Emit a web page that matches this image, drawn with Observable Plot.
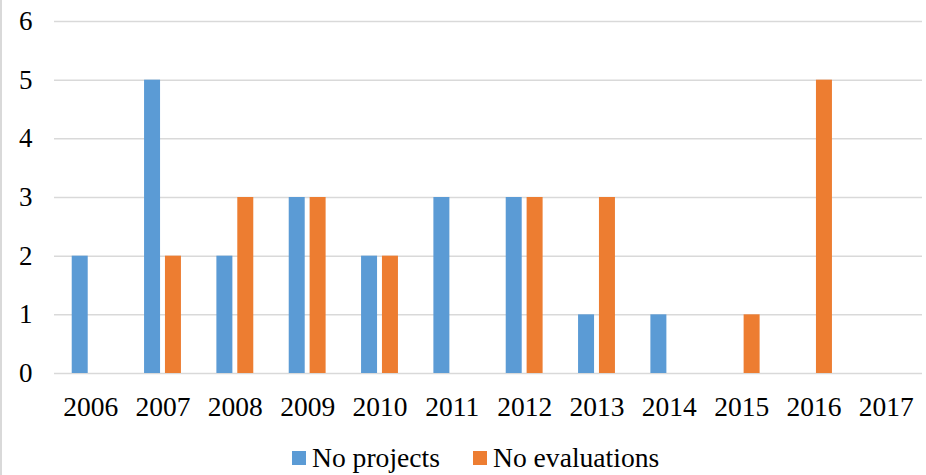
<!DOCTYPE html>
<html>
<head>
<meta charset="utf-8">
<script src="https://cdn.jsdelivr.net/npm/d3@7"></script>
<script src="https://cdn.jsdelivr.net/npm/@observablehq/plot@0.6"></script>
<style>
  html, body { margin: 0; padding: 0; background: #fff; }
  #wrap { position: relative; width: 926px; height: 475px; overflow: hidden; font-family: "Liberation Serif", "Times New Roman", serif; }
  #border { position: absolute; left: 0; top: 0; width: 2px; height: 475px; background: #d9d9d9; }
  #legend { position: absolute; left: 292px; top: 444px; display: flex; align-items: center; font-size: 27.6px; line-height: 27px; color: #000; white-space: nowrap; }
  .sw { display: inline-block; width: 14px; height: 14px; margin-right: 6px; }
  .item { display: flex; align-items: center; margin-right: 33px; }
</style>
</head>
<body>
<div id="wrap">
  <div id="chart"></div>
  <div id="border"></div>
  <div id="legend"></div>
</div>
<script>
const years = ["2006","2007","2008","2009","2010","2011","2012","2013","2014","2015","2016","2017"];
const projects = [2,5,2,3,2,3,3,1,1,0,0,0];
const evaluations = [0,2,3,3,2,0,3,3,0,1,5,0];
const yTicks = [0,1,2,3,4,5,6];
const seriesNames = ["No projects", "No evaluations"];
const seriesColors = ["#5B9BD5", "#ED7D31"];

const projData = years.map((y, i) => ({year: y, value: projects[i]}));
const evalData = years.map((y, i) => ({year: y, value: evaluations[i]}));

const chart = Plot.plot({
  width: 926,
  height: 440,
  marginLeft: 54,
  marginRight: 4,
  marginTop: 21,
  marginBottom: 67,
  style: {fontFamily: '"Liberation Serif", "Times New Roman", serif', fontSize: "27px", color: "#000", background: "transparent"},
  x: {type: "band", domain: years, paddingInner: 0.49, paddingOuter: 0.245, round: false, label: null},
  y: {domain: [0, 6], label: null},
  marks: [
    Plot.gridY(yTicks, {stroke: "#d9d9d9", strokeOpacity: 1, strokeWidth: 1.5}),
    Plot.barY(projData, {x: "year", y: "value", fill: seriesColors[0], insetLeft: 0, insetRight: 20.9}),
    Plot.barY(evalData, {x: "year", y: "value", fill: seriesColors[1], insetLeft: 20.9, insetRight: 0}),
    Plot.axisY(yTicks, {tickSize: 0, tickPadding: 22, fontSize: 27, tickFormat: d3.format("d"), label: null}),
    Plot.axisX({tickSize: 0, tickPadding: 23, fontSize: 27.5, label: null})
  ]
});
document.getElementById("chart").appendChild(chart);

const legend = document.getElementById("legend");
seriesNames.forEach((name, i) => {
  const item = document.createElement("span");
  item.className = "item";
  const sw = document.createElement("span");
  sw.className = "sw";
  sw.style.background = seriesColors[i];
  item.appendChild(sw);
  item.appendChild(document.createTextNode(name));
  legend.appendChild(item);
});
</script>
</body>
</html>
